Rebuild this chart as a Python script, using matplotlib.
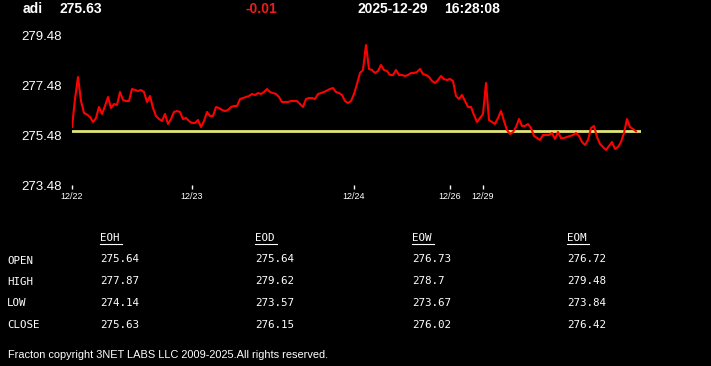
import matplotlib
matplotlib.use("Agg")
import matplotlib.pyplot as plt
import numpy as np

# header info
symbol = "adi"
last_price = "275.63"
change = "-0.01"
date_str = "2025-12-29"
time_str = "16:28:08"

# intraday price series (one point per bar)
prices = [
    275.80, 276.92, 277.80, 276.84, 276.36, 276.30, 276.20, 276.00, 276.16, 276.60,
    276.32, 276.64, 277.00, 276.56, 276.72, 276.68, 277.20, 276.88, 276.84, 276.84,
    277.32, 277.28, 277.24, 277.28, 277.20, 276.80, 277.04, 276.56, 276.24, 276.12,
    276.04, 276.32, 275.92, 276.12, 276.40, 276.44, 276.40, 276.12, 276.16, 276.04,
    275.96, 275.96, 276.08, 275.80, 276.04, 276.40, 276.24, 276.24, 276.60, 276.56,
    276.48, 276.44, 276.48, 276.60, 276.64, 276.64, 276.92, 276.96, 277.00, 277.04,
    277.12, 277.08, 277.16, 277.12, 277.20, 277.32, 277.20, 277.16, 277.12, 277.00,
    276.80, 276.80, 276.80, 276.84, 276.84, 276.84, 276.72, 276.60, 276.92, 276.96,
    276.96, 276.92, 277.12, 277.16, 277.20, 277.26, 277.32, 277.36, 277.20, 277.16,
    277.08, 276.84, 276.76, 276.84, 277.12, 277.52, 277.96, 278.08, 279.08, 278.12,
    278.08, 277.96, 278.04, 278.28, 278.08, 278.04, 277.88, 277.88, 278.08, 277.88,
    277.88, 277.84, 277.88, 277.96, 277.96, 278.00, 278.12, 277.92, 277.88, 277.80,
    277.64, 277.56, 277.68, 277.84, 277.72, 277.68, 277.72, 277.64, 277.04, 276.92,
    277.08, 276.84, 276.60, 276.60, 276.28, 276.00, 276.16, 276.32, 277.56, 276.08,
    276.00, 275.92, 276.16, 276.44, 276.04, 275.68, 275.52, 275.60, 275.80, 276.12,
    275.84, 275.84, 275.92, 275.76, 275.44, 275.36, 275.28, 275.48, 275.48, 275.48,
    275.56, 275.32, 275.60, 275.36, 275.36, 275.40, 275.44, 275.48, 275.56, 275.44,
    275.20, 275.08, 275.28, 275.76, 275.84, 275.40, 275.12, 275.00, 274.88, 275.04,
    275.20, 274.92, 275.00, 275.20, 275.56, 276.12, 275.80, 275.72, 275.63,
]
prev_close = 275.64

# date ticks (bar index where each session starts)
day_labels = ["12/22", "12/23", "12/24", "12/26", "12/29"]
day_index = [0, 40, 94, 126, 137]

y_ticks = [273.48, 275.48, 277.48, 279.48]

# summary table
row_names = ["OPEN", "HIGH", "LOW", "CLOSE"]
col_names = ["EOH", "EOD", "EOW", "EOM"]
table_vals = [
    ["275.64", "275.64", "276.73", "276.72"],
    ["277.87", "279.62", "278.7", "279.48"],
    ["274.14", "273.57", "273.67", "273.84"],
    ["275.63", "276.15", "276.02", "276.42"],
]

W, H = 711, 366
fig = plt.figure(figsize=(W / 100, H / 100), dpi=100)
fig.patch.set_facecolor("black")

# chart area in pixels: x 72..640.5, y 35..185
ax = fig.add_axes([72 / W, (H - 185) / H, 568.5 / W, 150 / H])
ax.set_facecolor("black")
x = np.arange(len(prices))
ax.axhline(prev_close, color="#e2e478", linewidth=2.0, zorder=1)
ax.plot(x, prices, color="#ff0000", linewidth=1.5, zorder=2)
ax.set_xlim(0, 189.5)
ax.set_ylim(273.48, 279.48)
for s in ax.spines.values():
    s.set_visible(False)

ax.set_yticks(y_ticks)
ax.set_yticklabels([f"{v:.2f}" for v in y_ticks])
ax.tick_params(axis="y", length=0, pad=7, labelsize=9.5, labelcolor="white")
ax.set_xticks(day_index)
ax.set_xticklabels(day_labels)
ax.tick_params(axis="x", length=3, width=1, color="white", pad=2,
               labelsize=6.5, labelcolor="white")
for lbl in ax.get_xticklabels() + ax.get_yticklabels():
    lbl.set_family("Liberation Sans")

# header line
hy = 1 - 9 / H
hdr = dict(fontsize=10, fontweight="bold", family="Liberation Sans", va="center")
fig.text(23 / W, hy, symbol, color="white", **hdr)
fig.text(60 / W, hy, last_price, color="white", **hdr)
fig.text(246 / W, hy, change, color="#ee1c1c", **hdr)
fig.text(357 / W, hy, date_str, color="white", **hdr)
fig.text(444 / W, hy, time_str, color="white", **hdr)

# table
mono = dict(fontsize=7.8, family="DejaVu Sans Mono", color="white", va="center")
col_x = [100, 255, 412, 567]
row_y = [259.5, 281, 302.5, 324.5]
for cx, name in zip(col_x, col_names):
    fig.text(cx / W, 1 - 238 / H, name, **mono)
    fig.add_artist(plt.Line2D([cx / W, (cx + 22) / W], [1 - 243.5 / H] * 2,
                              color="white", linewidth=0.8))
for ry, rname, vals in zip(row_y, row_names, table_vals):
    fig.text(7 / W, 1 - (ry + 1) / H, rname, **mono)
    for cx, v in zip(col_x, vals):
        fig.text(cx / W, 1 - ry / H, v, **mono)

fig.text(8 / W, 1 - 355 / H, "Fracton copyright 3NET LABS LLC 2009-2025.All rights reserved.",
         fontsize=7.9, family="Liberation Sans", color="white", va="center")

fig.savefig("out.png", dpi=100, facecolor="black")
